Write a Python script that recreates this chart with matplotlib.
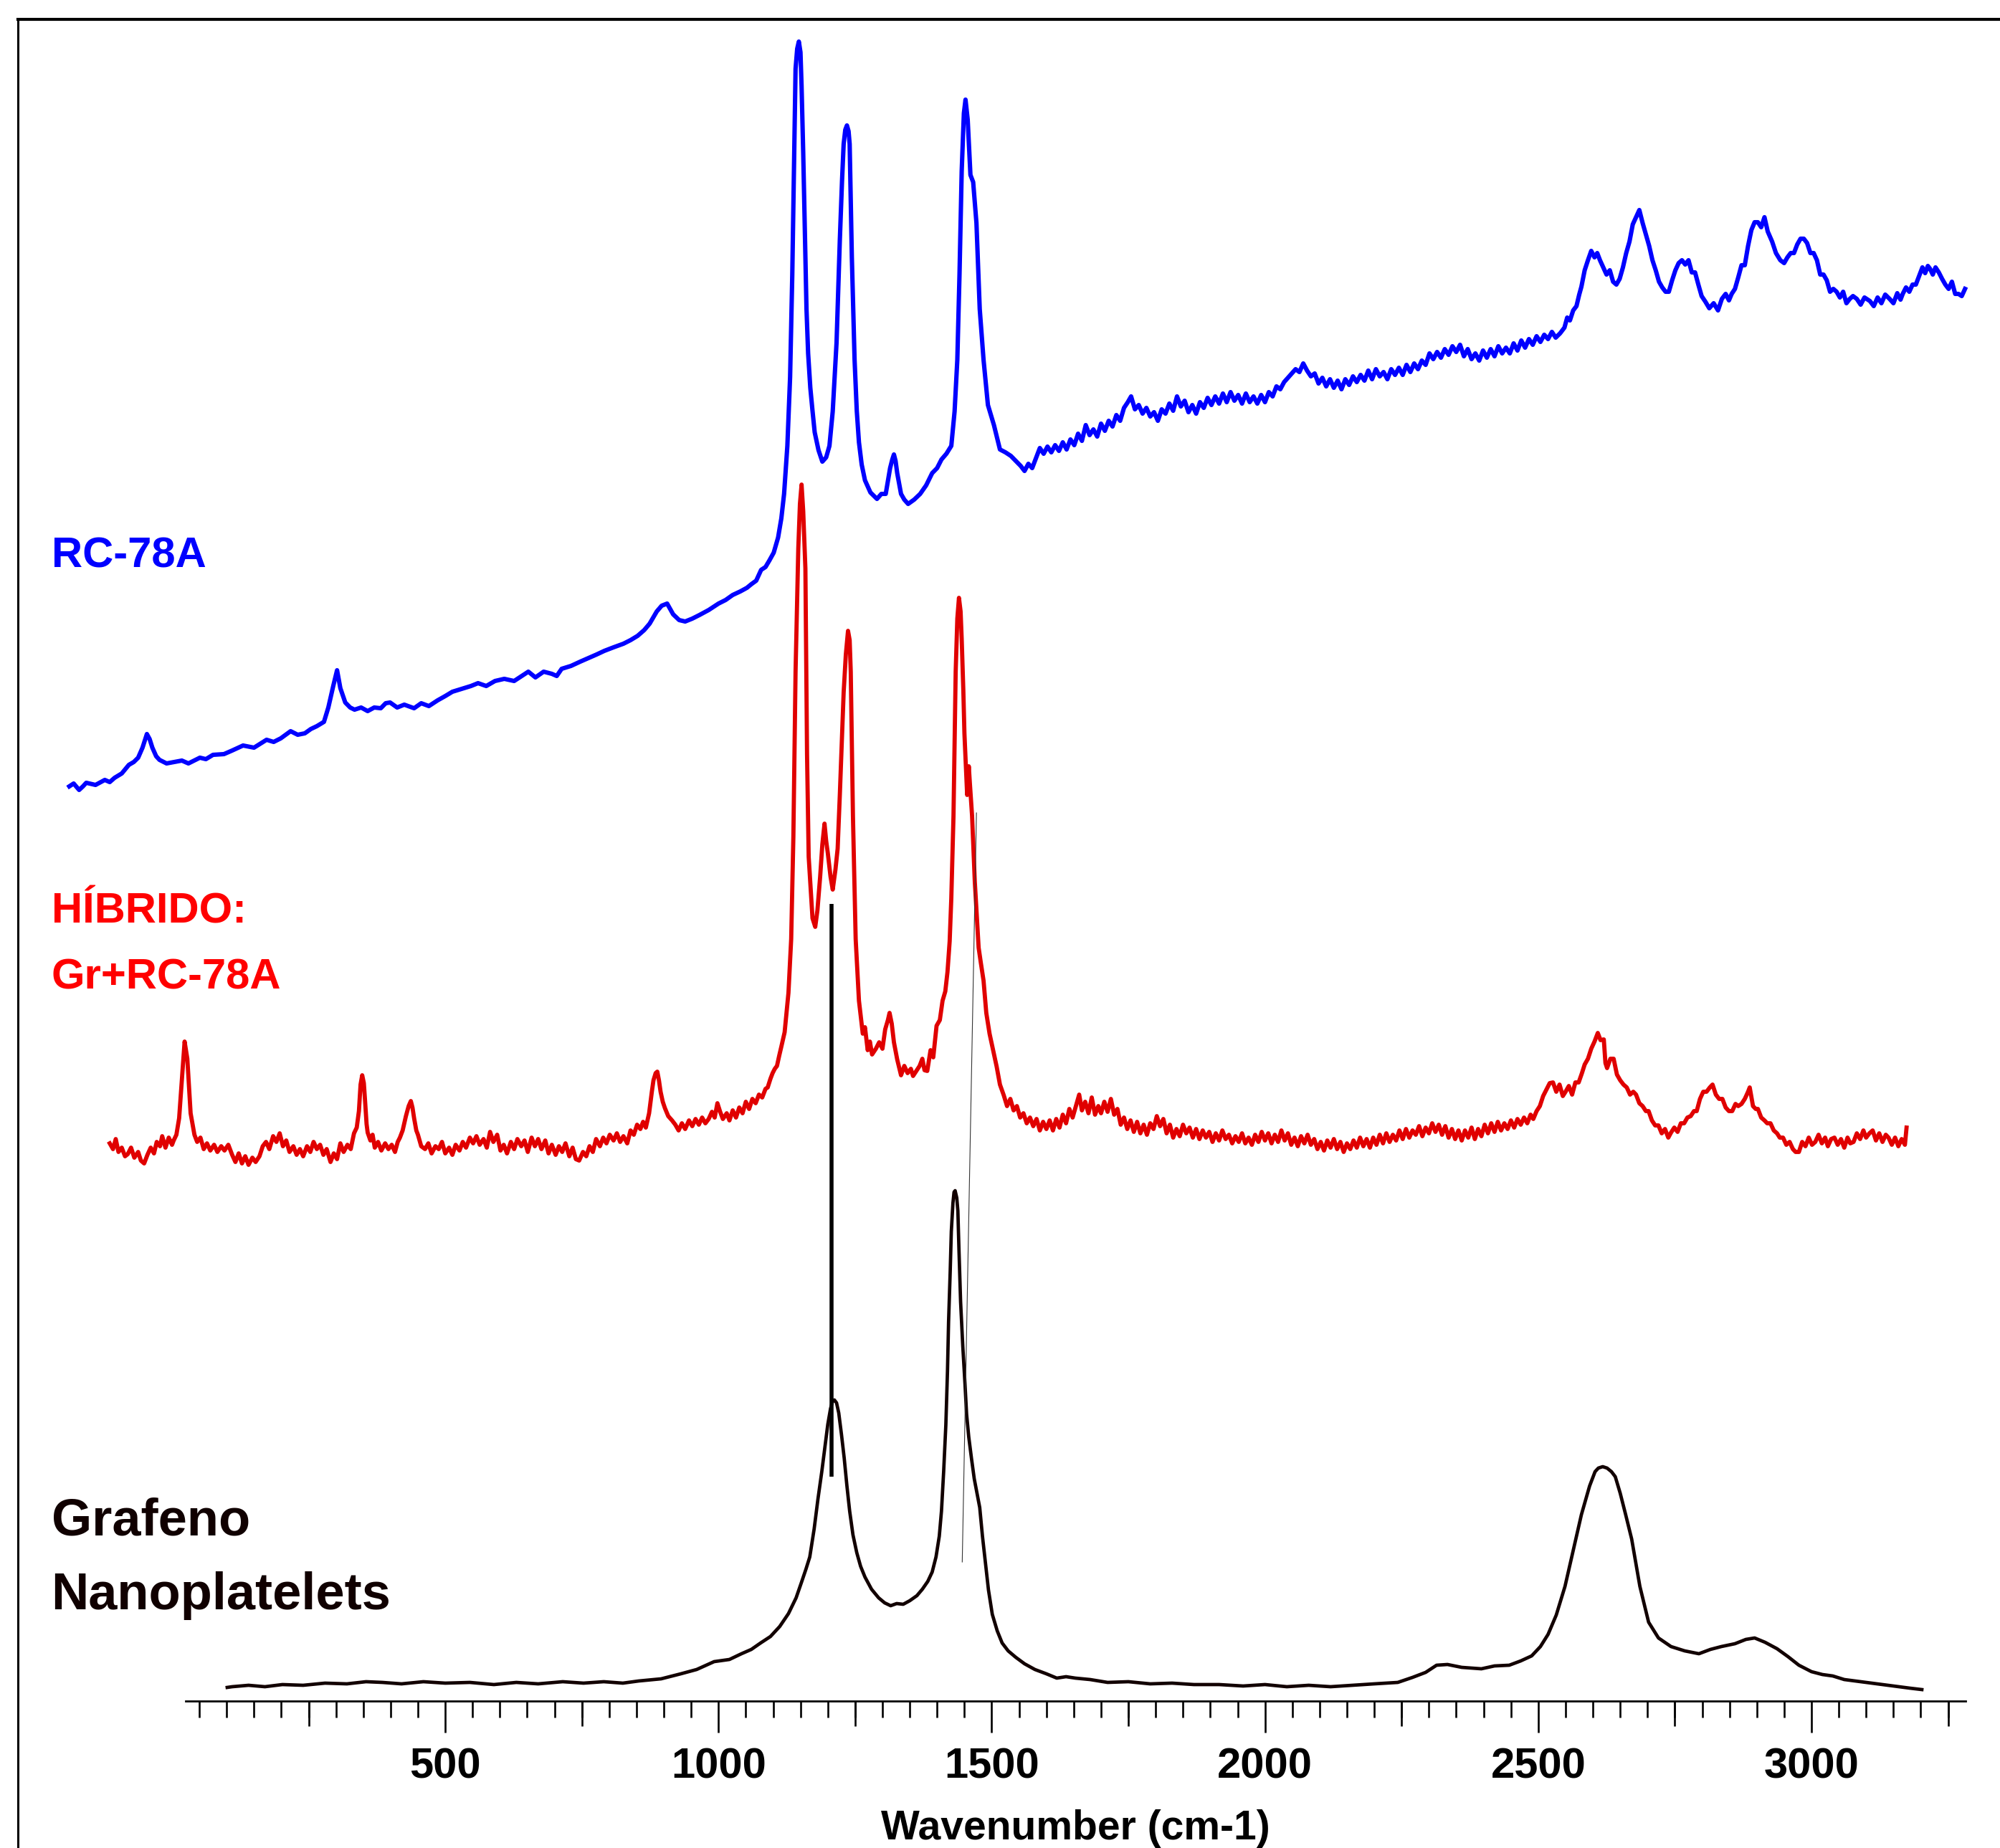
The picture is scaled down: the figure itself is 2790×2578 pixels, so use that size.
import matplotlib
matplotlib.use("Agg")
import matplotlib.pyplot as plt
import numpy as np

plt.rcParams['font.family'] = ['Liberation Sans', 'DejaVu Sans']
plt.rcParams['font.weight'] = 'bold'

# Raman spectra: (wavenumber cm-1, intensity a.u. incl. stacking offset)
blue_pts = [
    (-188, 12.76), (-180, 12.80), (-170, 12.71), (-163, 12.76), (-157, 12.81), (-140, 12.78),
    (-123, 12.85), (-114, 12.82), (-105, 12.88), (-92, 12.94), (-79, 13.06), (-70, 13.10),
    (-62, 13.16), (-54, 13.30), (-46, 13.49), (-41, 13.42), (-36, 13.30), (-29, 13.18),
    (-23, 13.13), (-10, 13.08), (4, 13.10), (18, 13.12), (30, 13.08), (51, 13.16), (62, 13.14),
    (75, 13.20), (95, 13.21), (110, 13.26), (130, 13.33), (150, 13.30), (173, 13.41), (186, 13.38),
    (199, 13.43), (208, 13.48), (217, 13.53), (230, 13.48), (243, 13.50), (254, 13.56), (265, 13.60),
    (278, 13.66), (286, 13.86), (295, 14.16), (302, 14.38), (308, 14.13), (317, 13.93), (326, 13.86),
    (334, 13.83), (346, 13.86), (358, 13.81), (370, 13.86), (382, 13.85), (391, 13.92), (399, 13.93),
    (412, 13.86), (425, 13.90), (443, 13.85), (456, 13.92), (470, 13.88), (486, 13.96), (500, 14.02),
    (513, 14.08), (530, 14.12), (547, 14.16), (560, 14.20), (575, 14.16), (591, 14.23), (608, 14.26),
    (626, 14.23), (640, 14.30), (652, 14.36), (665, 14.28), (680, 14.36), (695, 14.33), (704, 14.30),
    (713, 14.40), (730, 14.44), (747, 14.50), (762, 14.55), (777, 14.60), (791, 14.65), (808, 14.70),
    (826, 14.75), (839, 14.80), (852, 14.86), (864, 14.94), (874, 15.03), (887, 15.20), (896, 15.28),
    (906, 15.31), (917, 15.16), (928, 15.08), (939, 15.06), (952, 15.10), (965, 15.15), (982, 15.22),
    (1000, 15.31), (1013, 15.36), (1026, 15.43), (1040, 15.48), (1052, 15.53), (1060, 15.58),
    (1069, 15.63), (1078, 15.78), (1086, 15.82), (1093, 15.91), (1101, 16.02), (1109, 16.23),
    (1115, 16.50), (1120, 16.84), (1126, 17.51), (1131, 18.47), (1135, 19.90), (1138, 21.34),
    (1141, 22.77), (1144, 23.05), (1147, 23.15), (1150, 23.00), (1152, 22.53), (1155, 21.60),
    (1157, 20.86), (1161, 19.42), (1164, 18.80), (1168, 18.32), (1172, 18.00), (1176, 17.70),
    (1183, 17.45), (1190, 17.29), (1197, 17.35), (1203, 17.51), (1209, 17.99), (1216, 18.95),
    (1222, 20.38), (1226, 21.20), (1229, 21.72), (1232, 21.92), (1235, 21.98), (1238, 21.90),
    (1240, 21.72), (1244, 20.14), (1249, 18.71), (1253, 18.00), (1257, 17.56), (1262, 17.25),
    (1268, 17.03), (1278, 16.86), (1290, 16.77), (1298, 16.84), (1306, 16.84), (1314, 17.20),
    (1318, 17.32), (1321, 17.39), (1324, 17.30), (1327, 17.13), (1334, 16.84), (1340, 16.76),
    (1347, 16.70), (1358, 16.76), (1369, 16.84), (1380, 16.96), (1391, 17.13), (1400, 17.20),
    (1408, 17.32), (1417, 17.40), (1426, 17.51), (1432, 17.99), (1437, 18.71), (1441, 19.90),
    (1445, 21.34), (1449, 22.15), (1452, 22.34), (1456, 22.06), (1461, 21.29), (1466, 21.19),
    (1472, 20.62), (1478, 19.42), (1485, 18.71), (1493, 18.08), (1504, 17.80), (1515, 17.46),
    (1525, 17.42), (1535, 17.37), (1544, 17.30), (1553, 17.23), (1560, 17.16), (1567, 17.26),
    (1574, 17.20), (1581, 17.34), (1588, 17.48), (1595, 17.40), (1602, 17.50), (1609, 17.42),
    (1616, 17.52), (1623, 17.44), (1630, 17.56), (1637, 17.46), (1644, 17.60), (1651, 17.52),
    (1658, 17.68), (1665, 17.58), (1672, 17.80), (1679, 17.66), (1686, 17.74), (1693, 17.64),
    (1700, 17.82), (1707, 17.72), (1714, 17.86), (1721, 17.78), (1728, 17.94), (1735, 17.86),
    (1742, 18.04), (1749, 18.12), (1755, 18.20), (1762, 18.02), (1769, 18.08), (1776, 17.96),
    (1783, 18.04), (1790, 17.92), (1797, 17.98), (1804, 17.86), (1811, 18.02), (1818, 17.96),
    (1825, 18.10), (1832, 18.00), (1839, 18.20), (1846, 18.06), (1853, 18.14), (1860, 17.98),
    (1867, 18.08), (1874, 17.96), (1881, 18.12), (1888, 18.04), (1895, 18.18), (1902, 18.08),
    (1909, 18.20), (1916, 18.10), (1923, 18.24), (1930, 18.12), (1937, 18.26), (1944, 18.14),
    (1951, 18.22), (1958, 18.10), (1965, 18.24), (1972, 18.12), (1979, 18.20), (1986, 18.10),
    (1993, 18.22), (2000, 18.12), (2007, 18.26), (2014, 18.20), (2021, 18.34), (2028, 18.30),
    (2035, 18.40), (2042, 18.46), (2049, 18.52), (2056, 18.58), (2063, 18.54), (2070, 18.66),
    (2077, 18.56), (2084, 18.48), (2091, 18.52), (2098, 18.38), (2105, 18.46), (2112, 18.34),
    (2119, 18.44), (2126, 18.32), (2133, 18.42), (2140, 18.30), (2147, 18.44), (2154, 18.36),
    (2161, 18.48), (2168, 18.40), (2175, 18.50), (2182, 18.42), (2189, 18.56), (2196, 18.44),
    (2203, 18.58), (2210, 18.48), (2217, 18.54), (2224, 18.44), (2231, 18.58), (2238, 18.50),
    (2245, 18.60), (2252, 18.50), (2259, 18.64), (2266, 18.54), (2273, 18.66), (2280, 18.58),
    (2287, 18.70), (2294, 18.64), (2301, 18.80), (2308, 18.72), (2315, 18.82), (2322, 18.74),
    (2329, 18.86), (2336, 18.78), (2343, 18.90), (2350, 18.82), (2357, 18.92), (2364, 18.76),
    (2371, 18.86), (2378, 18.72), (2385, 18.80), (2392, 18.70), (2399, 18.84), (2406, 18.74),
    (2413, 18.86), (2420, 18.76), (2427, 18.90), (2434, 18.80), (2441, 18.88), (2448, 18.80),
    (2455, 18.94), (2462, 18.84), (2469, 18.98), (2476, 18.88), (2483, 19.00), (2490, 18.92),
    (2497, 19.04), (2504, 18.96), (2511, 19.06), (2518, 19.00), (2525, 19.10), (2532, 19.02),
    (2540, 19.08), (2548, 19.16), (2553, 19.30), (2558, 19.26), (2564, 19.40), (2570, 19.46),
    (2575, 19.62), (2579, 19.73), (2585, 19.96), (2591, 20.10), (2597, 20.23), (2603, 20.14),
    (2608, 20.20), (2613, 20.10), (2619, 20.00), (2625, 19.90), (2631, 19.96), (2637, 19.80),
    (2643, 19.76), (2649, 19.84), (2655, 20.00), (2661, 20.20), (2667, 20.36), (2673, 20.60),
    (2679, 20.70), (2685, 20.80), (2691, 20.62), (2697, 20.46), (2703, 20.30), (2709, 20.10),
    (2715, 19.96), (2721, 19.80), (2727, 19.72), (2733, 19.66), (2739, 19.66), (2745, 19.82),
    (2751, 19.96), (2757, 20.06), (2763, 20.10), (2769, 20.04), (2775, 20.10), (2781, 19.93),
    (2787, 19.93), (2793, 19.76), (2799, 19.60), (2806, 19.52), (2813, 19.43), (2821, 19.50),
    (2829, 19.40), (2836, 19.56), (2843, 19.63), (2849, 19.54), (2854, 19.63), (2860, 19.70),
    (2866, 19.86), (2872, 20.03), (2878, 20.03), (2884, 20.30), (2890, 20.52), (2896, 20.63),
    (2902, 20.63), (2908, 20.56), (2914, 20.70), (2920, 20.50), (2928, 20.36), (2935, 20.20),
    (2943, 20.10), (2950, 20.06), (2956, 20.14), (2962, 20.20), (2968, 20.20), (2974, 20.32),
    (2980, 20.40), (2986, 20.40), (2992, 20.34), (2998, 20.20), (3004, 20.20), (3010, 20.10),
    (3016, 19.90), (3022, 19.90), (3028, 19.82), (3034, 19.66), (3040, 19.70), (3046, 19.66),
    (3052, 19.58), (3058, 19.66), (3064, 19.50), (3070, 19.56), (3076, 19.60), (3083, 19.56),
    (3090, 19.48), (3097, 19.58), (3107, 19.53), (3114, 19.46), (3121, 19.58), (3128, 19.50),
    (3135, 19.62), (3143, 19.56), (3150, 19.50), (3157, 19.64), (3163, 19.55), (3167, 19.63),
    (3173, 19.72), (3179, 19.66), (3185, 19.76), (3191, 19.76), (3197, 19.88), (3203, 20.00),
    (3208, 19.92), (3213, 20.02), (3217, 19.98), (3222, 19.90), (3227, 20.00), (3233, 19.93),
    (3239, 19.84), (3245, 19.76), (3251, 19.70), (3257, 19.80), (3263, 19.63), (3269, 19.63),
    (3275, 19.60), (3281, 19.70),
]

red_pts = [
    (-114, 7.78), (-108, 7.70), (-103, 7.84), (-98, 7.66), (-92, 7.72), (-86, 7.60), (-81, 7.63),
    (-75, 7.72), (-69, 7.58), (-62, 7.66), (-57, 7.54), (-51, 7.50), (-45, 7.62), (-39, 7.72),
    (-33, 7.64), (-28, 7.80), (-22, 7.74), (-18, 7.88), (-12, 7.72), (-6, 7.86), (0, 7.76),
    (3, 7.82), (8, 7.90), (13, 8.13), (18, 8.66), (23, 9.20), (28, 8.96), (34, 8.20), (41, 7.90),
    (46, 7.80), (52, 7.86), (58, 7.70), (64, 7.78), (70, 7.68), (77, 7.76), (83, 7.66), (90, 7.74),
    (96, 7.68), (103, 7.76), (110, 7.62), (116, 7.52), (122, 7.64), (128, 7.50), (134, 7.60),
    (140, 7.48), (147, 7.58), (153, 7.52), (160, 7.60), (166, 7.74), (172, 7.80), (178, 7.70),
    (185, 7.88), (191, 7.80), (197, 7.92), (203, 7.74), (209, 7.82), (215, 7.66), (222, 7.74),
    (228, 7.62), (234, 7.70), (240, 7.60), (247, 7.74), (253, 7.66), (259, 7.80), (265, 7.70),
    (271, 7.76), (277, 7.62), (283, 7.70), (290, 7.52), (296, 7.64), (302, 7.56), (308, 7.78),
    (314, 7.66), (321, 7.76), (327, 7.70), (333, 7.92), (338, 8.00), (342, 8.23), (345, 8.60),
    (348, 8.73), (351, 8.62), (353, 8.40), (356, 8.05), (358, 7.93), (363, 7.82), (367, 7.90),
    (371, 7.72), (377, 7.80), (383, 7.68), (390, 7.78), (396, 7.70), (402, 7.76), (408, 7.66),
    (413, 7.80), (417, 7.86), (422, 7.96), (428, 8.16), (433, 8.30), (437, 8.37), (440, 8.28),
    (443, 8.13), (447, 7.96), (450, 7.90), (456, 7.74), (463, 7.70), (469, 7.78), (475, 7.64),
    (482, 7.74), (488, 7.70), (494, 7.80), (500, 7.64), (507, 7.72), (513, 7.62), (519, 7.76),
    (526, 7.68), (532, 7.80), (538, 7.72), (545, 7.86), (551, 7.78), (557, 7.88), (563, 7.76),
    (570, 7.84), (576, 7.72), (582, 7.94), (588, 7.80), (595, 7.90), (601, 7.68), (607, 7.76),
    (613, 7.64), (620, 7.80), (626, 7.70), (632, 7.84), (639, 7.74), (645, 7.82), (651, 7.66),
    (658, 7.86), (664, 7.74), (670, 7.84), (676, 7.70), (683, 7.82), (689, 7.64), (695, 7.76),
    (702, 7.62), (708, 7.74), (714, 7.66), (720, 7.78), (727, 7.60), (733, 7.72), (739, 7.56),
    (745, 7.54), (752, 7.66), (758, 7.60), (764, 7.74), (770, 7.66), (776, 7.84), (783, 7.74),
    (789, 7.86), (795, 7.78), (801, 7.90), (808, 7.82), (814, 7.92), (820, 7.80), (826, 7.88),
    (833, 7.78), (839, 7.96), (845, 7.90), (851, 8.04), (857, 7.98), (862, 8.08), (867, 8.00),
    (873, 8.20), (878, 8.50), (881, 8.66), (885, 8.76), (888, 8.78), (891, 8.66), (894, 8.50),
    (898, 8.36), (902, 8.27), (908, 8.16), (915, 8.10), (921, 8.04), (927, 7.96), (933, 8.06),
    (939, 7.98), (946, 8.10), (952, 8.02), (958, 8.12), (964, 8.04), (970, 8.14), (976, 8.06),
    (982, 8.12), (988, 8.22), (993, 8.14), (998, 8.34), (1003, 8.22), (1008, 8.12), (1015, 8.20),
    (1020, 8.10), (1026, 8.24), (1032, 8.14), (1038, 8.28), (1044, 8.20), (1050, 8.36),
    (1056, 8.26), (1062, 8.40), (1068, 8.34), (1074, 8.46), (1080, 8.42), (1086, 8.54),
    (1090, 8.56), (1095, 8.68), (1099, 8.76), (1103, 8.82), (1107, 8.86), (1111, 9.00),
    (1115, 9.13), (1121, 9.33), (1128, 9.88), (1133, 10.63), (1137, 12.06), (1141, 14.36),
    (1146, 16.08), (1149, 16.70), (1152, 16.97), (1155, 16.60), (1159, 15.80), (1162, 13.21),
    (1165, 11.78), (1172, 10.92), (1177, 10.80), (1181, 11.03), (1186, 11.50), (1190, 11.95),
    (1194, 12.24), (1197, 12.00), (1200, 11.83), (1205, 11.50), (1209, 11.32), (1214, 11.60),
    (1218, 11.89), (1222, 12.64), (1229, 14.07), (1233, 14.60), (1237, 14.93), (1240, 14.80),
    (1242, 14.36), (1246, 12.35), (1251, 10.63), (1257, 9.77), (1264, 9.31), (1268, 9.40),
    (1273, 9.08), (1277, 9.20), (1281, 9.02), (1288, 9.10), (1294, 9.19), (1300, 9.10),
    (1305, 9.37), (1310, 9.50), (1313, 9.60), (1317, 9.45), (1321, 9.19), (1327, 8.95),
    (1334, 8.73), (1340, 8.86), (1346, 8.76), (1352, 8.82), (1356, 8.72), (1362, 8.79),
    (1368, 8.86), (1373, 8.96), (1377, 8.80), (1382, 8.79), (1388, 9.08), (1393, 8.98),
    (1399, 9.42), (1405, 9.50), (1410, 9.77), (1415, 9.90), (1419, 10.17), (1423, 10.60),
    (1426, 11.20), (1430, 12.35), (1434, 14.36), (1437, 15.10), (1440, 15.39), (1443, 15.20),
    (1445, 14.82), (1448, 14.10), (1450, 13.50), (1455, 12.64), (1458, 13.04), (1460, 12.80),
    (1464, 12.35), (1469, 11.43), (1476, 10.51), (1480, 10.30), (1485, 10.05), (1490, 9.60),
    (1496, 9.31), (1502, 9.10), (1509, 8.85), (1515, 8.60), (1522, 8.45), (1528, 8.30),
    (1534, 8.40), (1540, 8.24), (1546, 8.30), (1552, 8.14), (1558, 8.20), (1564, 8.06),
    (1570, 8.14), (1576, 8.02), (1582, 8.12), (1588, 7.96), (1594, 8.08), (1600, 7.98),
    (1606, 8.10), (1612, 7.96), (1618, 8.12), (1624, 8.00), (1630, 8.18), (1636, 8.06),
    (1642, 8.26), (1648, 8.14), (1654, 8.30), (1660, 8.46), (1665, 8.24), (1671, 8.36),
    (1677, 8.20), (1683, 8.42), (1689, 8.18), (1695, 8.30), (1700, 8.20), (1706, 8.36),
    (1712, 8.22), (1718, 8.40), (1724, 8.18), (1730, 8.26), (1736, 8.04), (1742, 8.14),
    (1748, 7.98), (1754, 8.10), (1760, 7.94), (1766, 8.08), (1772, 7.92), (1778, 8.04),
    (1784, 7.90), (1790, 8.06), (1796, 7.98), (1802, 8.16), (1808, 8.02), (1814, 8.12),
    (1820, 7.92), (1826, 8.04), (1832, 7.86), (1838, 7.98), (1844, 7.88), (1850, 8.04),
    (1856, 7.92), (1862, 8.00), (1868, 7.86), (1874, 7.98), (1880, 7.84), (1886, 7.96),
    (1892, 7.86), (1898, 7.94), (1904, 7.80), (1910, 7.92), (1916, 7.82), (1922, 7.96),
    (1928, 7.84), (1934, 7.90), (1940, 7.78), (1946, 7.88), (1952, 7.80), (1958, 7.92),
    (1964, 7.78), (1970, 7.86), (1976, 7.76), (1982, 7.90), (1988, 7.80), (1994, 7.94),
    (2000, 7.82), (2006, 7.92), (2012, 7.78), (2018, 7.90), (2024, 7.80), (2030, 7.96),
    (2036, 7.82), (2042, 7.92), (2048, 7.76), (2054, 7.86), (2060, 7.74), (2066, 7.88),
    (2072, 7.78), (2078, 7.90), (2084, 7.76), (2090, 7.84), (2096, 7.70), (2102, 7.80),
    (2108, 7.68), (2114, 7.82), (2120, 7.72), (2126, 7.84), (2132, 7.70), (2138, 7.80),
    (2144, 7.66), (2150, 7.78), (2156, 7.70), (2162, 7.82), (2168, 7.72), (2174, 7.86),
    (2180, 7.74), (2186, 7.84), (2192, 7.72), (2198, 7.86), (2204, 7.76), (2210, 7.90),
    (2216, 7.78), (2222, 7.92), (2228, 7.80), (2234, 7.90), (2240, 7.82), (2246, 7.96),
    (2252, 7.84), (2258, 7.98), (2264, 7.86), (2270, 7.96), (2276, 7.90), (2282, 8.02),
    (2288, 7.88), (2294, 8.00), (2300, 7.92), (2306, 8.06), (2312, 7.94), (2318, 8.04),
    (2324, 7.90), (2330, 8.02), (2336, 7.86), (2342, 7.98), (2348, 7.84), (2354, 7.96),
    (2360, 7.82), (2366, 7.96), (2372, 7.86), (2378, 8.00), (2384, 7.84), (2390, 7.98),
    (2396, 7.88), (2402, 8.04), (2408, 7.92), (2414, 8.06), (2420, 7.94), (2426, 8.08),
    (2432, 7.96), (2438, 8.06), (2444, 7.98), (2450, 8.10), (2456, 8.00), (2462, 8.12),
    (2468, 8.04), (2474, 8.14), (2480, 8.06), (2486, 8.18), (2491, 8.12), (2497, 8.23),
    (2503, 8.30), (2509, 8.44), (2515, 8.53), (2521, 8.62), (2527, 8.63), (2533, 8.50),
    (2539, 8.60), (2545, 8.44), (2550, 8.50), (2556, 8.58), (2562, 8.46), (2568, 8.63),
    (2574, 8.63), (2580, 8.76), (2585, 8.88), (2591, 8.96), (2597, 9.10), (2603, 9.20),
    (2609, 9.32), (2614, 9.22), (2620, 9.23), (2623, 8.90), (2626, 8.83), (2632, 8.96),
    (2638, 8.96), (2644, 8.74), (2650, 8.66), (2656, 8.60), (2662, 8.56), (2668, 8.46),
    (2674, 8.50), (2679, 8.46), (2685, 8.34), (2691, 8.30), (2697, 8.23), (2702, 8.23),
    (2708, 8.10), (2714, 8.03), (2720, 8.03), (2726, 7.92), (2732, 7.98), (2738, 7.86),
    (2743, 7.93), (2749, 8.00), (2755, 7.94), (2761, 8.06), (2767, 8.06), (2773, 8.14),
    (2779, 8.16), (2785, 8.23), (2790, 8.23), (2796, 8.40), (2802, 8.50), (2808, 8.50),
    (2814, 8.56), (2819, 8.60), (2825, 8.46), (2831, 8.40), (2837, 8.40), (2843, 8.28),
    (2849, 8.23), (2855, 8.23), (2861, 8.33), (2866, 8.30), (2872, 8.33), (2878, 8.40),
    (2884, 8.50), (2887, 8.56), (2893, 8.30), (2898, 8.26), (2902, 8.26), (2908, 8.14),
    (2914, 8.10), (2919, 8.06), (2925, 8.06), (2931, 7.96), (2937, 7.92), (2942, 7.86),
    (2948, 7.86), (2954, 7.76), (2960, 7.80), (2966, 7.70), (2971, 7.66), (2977, 7.66),
    (2983, 7.80), (2989, 7.74), (2995, 7.86), (3001, 7.76), (3007, 7.80), (3013, 7.90),
    (3019, 7.78), (3025, 7.86), (3030, 7.74), (3036, 7.84), (3042, 7.86), (3048, 7.76),
    (3054, 7.84), (3060, 7.72), (3066, 7.86), (3071, 7.78), (3077, 7.80), (3083, 7.92),
    (3089, 7.84), (3095, 7.96), (3100, 7.86), (3106, 7.92), (3112, 7.96), (3118, 7.82),
    (3124, 7.92), (3130, 7.80), (3136, 7.90), (3141, 7.86), (3147, 7.76), (3153, 7.86),
    (3159, 7.74), (3165, 7.84), (3171, 7.76), (3174, 8.00),
]

black_pts = [
    (101, 0.19), (110, 0.20), (140, 0.22), (170, 0.20), (202, 0.23), (240, 0.22), (280, 0.25),
    (320, 0.24), (355, 0.27), (385, 0.26), (420, 0.24), (460, 0.27), (500, 0.25), (545, 0.26),
    (589, 0.23), (630, 0.26), (670, 0.24), (715, 0.27), (753, 0.25), (790, 0.27), (825, 0.25),
    (854, 0.28), (895, 0.31), (931, 0.38), (960, 0.44), (992, 0.55), (1020, 0.58), (1042, 0.66),
    (1060, 0.72), (1077, 0.81), (1095, 0.90), (1112, 1.04), (1128, 1.22), (1142, 1.44),
    (1152, 1.66), (1160, 1.84), (1167, 2.01), (1175, 2.40), (1182, 2.82), (1189, 3.20),
    (1195, 3.56), (1200, 3.86), (1205, 4.08), (1209, 4.19), (1212, 4.20), (1216, 4.16),
    (1220, 4.02), (1225, 3.72), (1230, 3.39), (1235, 3.00), (1240, 2.65), (1246, 2.32),
    (1253, 2.07), (1260, 1.88), (1268, 1.73), (1280, 1.56), (1293, 1.44), (1304, 1.37),
    (1315, 1.33), (1326, 1.36), (1338, 1.35), (1350, 1.40), (1363, 1.47), (1373, 1.56),
    (1383, 1.67), (1391, 1.80), (1398, 2.01), (1404, 2.30), (1408, 2.65), (1412, 3.20),
    (1416, 3.85), (1419, 4.60), (1421, 5.29), (1424, 6.00), (1426, 6.55), (1429, 6.95),
    (1431, 7.10), (1433, 7.12), (1436, 7.02), (1438, 6.84), (1440, 6.30), (1443, 5.57),
    (1447, 4.95), (1451, 4.43), (1454, 4.00), (1458, 3.68), (1463, 3.38), (1468, 3.10),
    (1473, 2.90), (1478, 2.70), (1483, 2.30), (1488, 1.96), (1494, 1.55), (1501, 1.21),
    (1510, 0.98), (1519, 0.81), (1530, 0.70), (1544, 0.61), (1560, 0.52), (1579, 0.44),
    (1600, 0.38), (1619, 0.32), (1636, 0.34), (1653, 0.32), (1680, 0.30), (1712, 0.26),
    (1750, 0.27), (1790, 0.24), (1830, 0.25), (1870, 0.23), (1916, 0.23), (1960, 0.21),
    (2000, 0.23), (2040, 0.20), (2080, 0.22), (2120, 0.20), (2160, 0.22), (2200, 0.24),
    (2243, 0.26), (2270, 0.33), (2294, 0.40), (2314, 0.50), (2334, 0.51), (2360, 0.47),
    (2396, 0.45), (2420, 0.49), (2447, 0.50), (2468, 0.56), (2488, 0.63), (2504, 0.76),
    (2518, 0.93), (2533, 1.20), (2549, 1.60), (2564, 2.10), (2579, 2.60), (2594, 3.00),
    (2604, 3.20), (2610, 3.25), (2618, 3.27), (2626, 3.25), (2634, 3.20), (2641, 3.13),
    (2650, 2.90), (2660, 2.60), (2671, 2.26), (2686, 1.60), (2702, 1.10), (2720, 0.88),
    (2743, 0.76), (2768, 0.70), (2794, 0.66), (2815, 0.72), (2835, 0.76), (2860, 0.80),
    (2880, 0.86), (2896, 0.88), (2915, 0.82), (2937, 0.73), (2957, 0.62), (2977, 0.50),
    (3000, 0.41), (3020, 0.37), (3039, 0.35), (3060, 0.30), (3080, 0.28), (3100, 0.26),
    (3120, 0.24), (3140, 0.22), (3160, 0.20), (3180, 0.18), (3202, 0.16),
]

# guide lines linking the graphene D and G bands
d_line_x = [1207, 1207]
d_line_y = [3.13, 11.12]
g_line_x = [1446, 1472]
g_line_y = [1.94, 12.39]

major_ticks = [500, 1000, 1500, 2000, 2500, 3000]
mid_ticks = [250, 750, 1250, 1750, 2250, 2750, 3250]
minor_ticks = np.arange(50, 3300, 50)

blue_x, blue_y = zip(*blue_pts)
red_x, red_y = zip(*red_pts)
black_x, black_y = zip(*black_pts)

W, H = 2790, 2578
fig = plt.figure(figsize=(W / 100, H / 100), dpi=100)
ax = fig.add_axes([25 / W, 205 / H, 2765 / W, 2346 / H])
ax.set_xlim(-282, 3345)
ax.set_ylim(0, 23.46)

ax.plot(blue_x, blue_y, color='#0000ff', lw=4.4, solid_joinstyle='round')
ax.plot(red_x, red_y, color='#e00000', lw=4.2, solid_joinstyle='round')
ax.plot(black_x, black_y, color='#120000', lw=3.4, solid_joinstyle='round')
ax.plot(d_line_x, d_line_y, color='black', lw=4.0, solid_capstyle='butt')
ax.plot(g_line_x, g_line_y, color='#333333', lw=0.8)

ax.text(-221, 15.81, 'RC-78A', color='#0000ff', fontsize=43, fontweight='bold', va='baseline')
ax.text(-221, 10.86, 'HÍBRIDO:', color='#ff0000', fontsize=43, fontweight='bold', va='baseline')
ax.text(-221, 9.93, 'Gr+RC-78A', color='#ff0000', fontsize=43, fontweight='bold', va='baseline')
ax.text(-221, 2.32, 'Grafeno', color='#100000', fontsize=52, fontweight='bold', va='baseline')
ax.text(-221, 1.28, 'Nanoplatelets', color='#100000', fontsize=52, fontweight='bold', va='baseline')

# frame and axis
ax.spines['right'].set_visible(False)
ax.spines['top'].set_linewidth(3.0)
ax.spines['left'].set_linewidth(2.2)
ax.spines['left'].set_bounds(-2.2, 23.46)
ax.spines['bottom'].set_linewidth(2.0)
ax.spines['bottom'].set_bounds(25, 3282)
ax.set_yticks([])

ax.set_xticks(major_ticks)
ax.set_xticks(minor_ticks, minor=True)
ax.tick_params(axis='x', which='major', direction='out', length=31.7, width=1.9,
               pad=15, labelsize=43)
ax.tick_params(axis='x', which='minor', direction='out', length=16.6, width=1.9)

mid = ax.secondary_xaxis('bottom')
mid.set_xticks(mid_ticks)
mid.tick_params(axis='x', direction='out', length=25.2, width=1.9, labelbottom=False)
mid.spines['bottom'].set_visible(False)

ax.set_xlabel('Wavenumber (cm-1)', fontsize=41, fontweight='bold')
ax.xaxis.set_label_coords((1500 - 25) / 2765, -(2524 - 2373) / 2346)

fig.savefig('out.png', dpi=100)
